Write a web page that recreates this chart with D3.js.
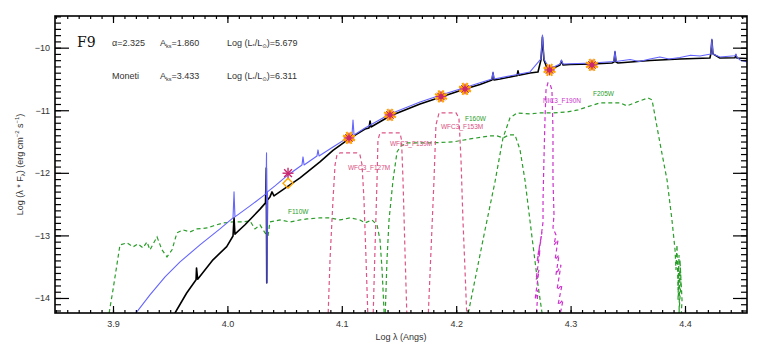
<!DOCTYPE html>
<html>
<head>
<meta charset="utf-8">
<script src="https://cdn.jsdelivr.net/npm/d3@7"></script>
<style>
  body { margin: 0; background: #fff; }
  svg { display: block; font-family: "Liberation Sans", "DejaVu Sans", sans-serif; }
</style>
</head>
<body>
<div id="chart"></div>
<script>
// [log lambda (Angs), log (lambda * F_lambda)]
const modelSpectrum = [
  [3.953, -14.3], [3.9542, -14.24], [3.9644, -13.92], [3.9726, -13.71], [3.973, -13.52],
  [3.974, -13.70], [3.9874, -13.39], [3.9994, -13.18], [4.0049, -13.01], [4.0058, -12.72],
  [4.0066, -12.98], [4.0154, -12.83], [4.0285, -12.58], [4.0333, -12.48], [4.034, -11.922],
  [4.0344, -13.758], [4.035, -12.433], [4.0372, -12.385], [4.039, -12.305], [4.0407, -12.369],
  [4.0635, -12.081], [4.0809, -11.826], [4.0923, -11.642], [4.1063, -11.458], [4.1203, -11.299],
  [4.1238, -11.283], [4.1247, -11.171], [4.1255, -11.267], [4.1421, -11.091], [4.1684, -10.899],
  [4.1867, -10.788], [4.2077, -10.660], [4.2208, -10.588], [4.2313, -10.516], [4.2322, -10.404],
  [4.233, -10.516], [4.2383, -10.500], [4.2514, -10.452], [4.2531, -10.45], [4.254, -10.37],
  [4.2549, -10.44], [4.2645, -10.404], [4.2715, -10.388], [4.2741, -10.196], [4.2754, -9.829],
  [4.2767, -10.196], [4.2794, -10.324], [4.2816, -10.356], [4.2907, -10.276], [4.292, -10.212],
  [4.2934, -10.276], [4.2995, -10.268], [4.3187, -10.260], [4.3362, -10.244], [4.3379, -10.23],
  [4.3388, -10.069], [4.3397, -10.23], [4.3414, -10.244], [4.3694, -10.204], [4.3956, -10.181],
  [4.4218, -10.165], [4.4226, -10.10], [4.4235, -9.877], [4.4244, -10.10], [4.4305, -10.165],
  [4.4437, -10.16], [4.4445, -10.117], [4.4454, -10.165], [4.4542, -10.173]
];

const observedSpectrum = [
  [3.9175, -14.302], [3.9323, -13.950], [3.9455, -13.663], [3.9586, -13.423], [3.976, -13.152],
  [3.9935, -12.896], [4.0049, -12.720], [4.0058, -12.305], [4.0066, -12.704], [4.0198, -12.529],
  [4.0302, -12.385], [4.0337, -12.337], [4.0342, -11.682], [4.0346, -13.758], [4.035, -12.305],
  [4.0416, -12.209], [4.053, -12.034], [4.0652, -11.874], [4.0661, -11.746], [4.067, -11.874],
  [4.0783, -11.730], [4.0792, -11.634], [4.0801, -11.730], [4.0923, -11.586], [4.1063, -11.426],
  [4.1089, -11.395], [4.1098, -11.155], [4.1107, -11.395], [4.1203, -11.283], [4.1421, -11.059],
  [4.1684, -10.867], [4.1867, -10.756], [4.2077, -10.636], [4.2313, -10.500], [4.2322, -10.388],
  [4.233, -10.500], [4.2645, -10.388], [4.2741, -10.180], [4.2754, -9.797], [4.2767, -10.180],
  [4.2816, -10.340], [4.2907, -10.26], [4.292, -10.196], [4.2934, -10.26], [4.3187, -10.244],
  [4.3379, -10.22], [4.3388, -10.053], [4.3397, -10.22], [4.352, -10.19], [4.36, -10.22],
  [4.3694, -10.181], [4.378, -10.15], [4.386, -10.18], [4.3956, -10.157], [4.405, -10.12],
  [4.4131, -10.133], [4.4226, -10.10], [4.4235, -9.861], [4.4244, -10.10], [4.4305, -10.149],
  [4.4437, -10.13], [4.4445, -10.101], [4.4454, -10.15], [4.448, -10.196], [4.4542, -10.228]
];

const f110w = [
  [3.8956, -14.35], [3.9, -13.87], [3.9061, -13.152], [3.9122, -13.12], [3.9175, -13.184],
  [3.9219, -13.136], [3.9262, -13.199], [3.9297, -13.104], [3.9323, -13.231], [3.9385, -13.024],
  [3.9428, -13.231], [3.9472, -13.343], [3.9516, -13.231], [3.9559, -12.96], [3.9612, -12.912],
  [3.9673, -12.944], [3.9734, -12.897], [3.9822, -12.881], [3.9874, -12.849], [3.9962, -12.801],
  [4.0049, -12.785], [4.0136, -12.785], [4.0198, -12.769], [4.0241, -12.897], [4.0285, -12.833],
  [4.0329, -12.96], [4.0355, -13.008], [4.0372, -12.785], [4.046, -12.753], [4.0547, -12.785],
  [4.0635, -12.753], [4.0696, -12.737], [4.0809, -12.72], [4.0897, -12.72], [4.0984, -12.753],
  [4.1072, -12.72], [4.1159, -12.753], [4.1203, -12.801], [4.1264, -12.753], [4.1308, -12.833],
  [4.1334, -13.072], [4.1352, -13.551], [4.1373, -14.35]
];

const f160w = [
  [4.1378, -14.35], [4.1395, -13.391], [4.1413, -12.752], [4.1448, -12.113], [4.1483, -11.665],
  [4.1517, -11.57], [4.157, -11.522], [4.1771, -11.522], [4.1972, -11.506], [4.2121, -11.458],
  [4.2295, -11.41], [4.2357, -11.41], [4.2409, -11.442], [4.2462, -11.395], [4.2514, -11.395],
  [4.2558, -11.634], [4.2601, -12.113], [4.2671, -13.152], [4.2715, -13.791], [4.2759, -14.35]
];

const f205w = [
  [4.2094, -14.35], [4.2164, -13.711], [4.2252, -12.912], [4.2339, -12.145], [4.2409, -11.442],
  [4.247, -11.123], [4.2531, -11.043], [4.2645, -11.059], [4.2733, -11.043], [4.2846, -11.043],
  [4.2969, -11.027], [4.3065, -10.995], [4.3143, -10.947], [4.3257, -10.883], [4.3371, -10.883],
  [4.3432, -10.883], [4.3493, -10.931], [4.358, -10.867], [4.3677, -10.804], [4.3712, -10.835],
  [4.3781, -11.522], [4.3843, -12.113], [4.3886, -12.752], [4.3913, -13.232], [4.3921, -13.551],
  [4.393, -13.152], [4.3939, -13.871], [4.3948, -13.312], [4.3939, -14.031], [4.3956, -13.551],
  [4.3948, -14.24], [4.3965, -13.711], [4.3956, -13.391], [4.3974, -14.031], [4.3965, -14.35]
];

const f127m = [
  [4.0879, -14.35], [4.0897, -13.391], [4.0923, -12.433], [4.0941, -11.874], [4.0958, -11.714],
  [4.0984, -11.682], [4.1133, -11.682], [4.1159, -11.714], [4.1177, -11.874], [4.1194, -12.433],
  [4.1212, -13.391], [4.1229, -14.35]
];

const f139m = [
  [4.1273, -14.35], [4.129, -13.232], [4.1308, -12.113], [4.1316, -11.474], [4.1334, -11.363],
  [4.1509, -11.363], [4.1522, -11.474], [4.1535, -12.113], [4.1552, -13.232], [4.157, -14.35]
];

const f153m = [
  [4.1754, -14.35], [4.178, -13.232], [4.1806, -12.113], [4.1823, -11.235], [4.185, -11.043],
  [4.1999, -11.043], [4.2024, -11.123], [4.2042, -11.794], [4.2059, -12.752], [4.2077, -13.551],
  [4.2094, -14.35]
];

const f190n = [
  [4.2698, -14.35], [4.2715, -13.871], [4.2689, -14.031], [4.2724, -13.551], [4.2698, -13.711],
  [4.2733, -13.232], [4.2706, -13.423], [4.2741, -13.072], [4.2715, -13.312], [4.275, -12.944],
  [4.2733, -13.152], [4.2759, -12.785], [4.2759, -12.433], [4.2767, -11.794], [4.2776, -11.155],
  [4.2785, -10.676], [4.2802, -10.564], [4.282, -10.58], [4.2837, -10.676], [4.2846, -11.315],
  [4.2846, -12.113], [4.2855, -12.672], [4.2846, -12.88], [4.2872, -12.992], [4.2855, -13.152],
  [4.289, -13.072], [4.2864, -13.391], [4.2899, -13.312], [4.2872, -13.631], [4.2916, -13.471],
  [4.2881, -13.871], [4.2925, -13.791], [4.289, -14.111], [4.2934, -14.031], [4.2899, -14.35]
];

const photometry = [
  [4.1063, -11.443], [4.1421, -11.075], [4.1867, -10.78], [4.2077, -10.66],
  [4.2816, -10.356], [4.3187, -10.276]
];
const asteriskPoint = [4.053, -12.006];
const diamondPoint = [4.053, -12.166];

const filterLabels = [
  { text: "F110W", at: [4.053, -12.66], color: "#2a9d2a" },
  { text: "WFC3_F127M", at: [4.1054, -11.955], color: "#d9507f" },
  { text: "WFC3_F139M", at: [4.1421, -11.57], color: "#d9507f" },
  { text: "WFC3_F153M", at: [4.1867, -11.30], color: "#d9507f" },
  { text: "F160W", at: [4.2077, -11.17], color: "#2a9d2a" },
  { text: "NIC3_F190N", at: [4.2759, -10.88], color: "#cc33cc" },
  { text: "F205W", at: [4.3196, -10.78], color: "#2a9d2a" }
];

const xTicks = [3.9, 4.0, 4.1, 4.2, 4.3, 4.4];
const yTicks = [-14, -13, -12, -11, -10];

const width = 763;
const height = 349;
const margin = { top: 16, right: 16, bottom: 36, left: 55 };

const x = d3.scaleLinear()
  .domain([3.8493, 4.4542])
  .range([margin.left, width - margin.right]);
const y = d3.scaleLinear()
  .domain([-14.24, -9.494])
  .range([height - margin.bottom, margin.top]);

const line = d3.line()
  .x((d) => x(d[0]))
  .y((d) => y(d[1]));

const svg = d3.select("#chart").append("svg")
  .attr("width", width)
  .attr("height", height);

svg.append("clipPath").attr("id", "plot-clip")
  .append("rect")
  .attr("x", margin.left)
  .attr("y", margin.top)
  .attr("width", width - margin.left - margin.right)
  .attr("height", height - margin.top - margin.bottom);

const g = svg.append("g").attr("clip-path", "url(#plot-clip)");

// filter curves
const filters = [
  { data: f110w, color: "#2a9d2a" },
  { data: f160w, color: "#2a9d2a" },
  { data: f205w, color: "#2a9d2a" },
  { data: f127m, color: "#dd5588" },
  { data: f139m, color: "#dd5588" },
  { data: f153m, color: "#dd5588" },
  { data: f190n, color: "#cc33cc" }
];
g.append("g")
  .selectAll("path")
  .data(filters)
  .join("path")
  .attr("fill", "none")
  .attr("stroke", (d) => d.color)
  .attr("stroke-width", 1.2)
  .attr("stroke-dasharray", "4,3")
  .attr("d", (d) => line(d.data));

// spectra
g.append("path")
  .attr("fill", "none")
  .attr("stroke", "#000")
  .attr("stroke-width", 1.6)
  .attr("stroke-linejoin", "round")
  .attr("d", line(modelSpectrum));

g.append("path")
  .attr("fill", "none")
  .attr("stroke", "#6464ff")
  .attr("stroke-width", 1.1)
  .attr("stroke-linejoin", "round")
  .attr("d", line(observedSpectrum));

// filter labels
svg.append("g")
  .selectAll("text")
  .data(filterLabels)
  .join("text")
  .attr("x", (d) => x(d.at[0]))
  .attr("y", (d) => y(d.at[1]))
  .attr("fill", (d) => d.color)
  .attr("font-size", 6.5)
  .text((d) => d.text);

// photometric points: orange sunburst with crimson asterisk
const rays = d3.range(8).map((i) => (i * Math.PI) / 4);
const pts = svg.append("g")
  .selectAll("g")
  .data(photometry)
  .join("g")
  .attr("transform", (d) => `translate(${x(d[0])},${y(d[1])})`);
pts.selectAll(".ray")
  .data(rays)
  .join("line")
  .attr("class", "ray")
  .attr("x2", (a) => 6.5 * Math.cos(a + Math.PI / 8))
  .attr("y2", (a) => 6.5 * Math.sin(a + Math.PI / 8))
  .attr("stroke", "#ffa500")
  .attr("stroke-width", 2);
pts.append("circle").attr("r", 4.5).attr("fill", "#ffa500");
pts.selectAll(".spoke")
  .data(rays)
  .join("line")
  .attr("class", "spoke")
  .attr("x2", (a) => 5.5 * Math.cos(a))
  .attr("y2", (a) => 5.5 * Math.sin(a))
  .attr("stroke", "#c8286e")
  .attr("stroke-width", 1);
pts.append("circle").attr("r", 2.6).attr("fill", "#c8286e");

const ast = svg.append("g")
  .attr("transform", `translate(${x(asteriskPoint[0])},${y(asteriskPoint[1])})`);
ast.selectAll("line")
  .data(rays)
  .join("line")
  .attr("x2", (a) => 5.5 * Math.cos(a))
  .attr("y2", (a) => 5.5 * Math.sin(a))
  .attr("stroke", "#c8286e")
  .attr("stroke-width", 1.4);

svg.append("path")
  .attr("transform", `translate(${x(diamondPoint[0])},${y(diamondPoint[1])})`)
  .attr("d", "M0,-5L5,0L0,5L-5,0Z")
  .attr("fill", "none")
  .attr("stroke", "#ffa500")
  .attr("stroke-width", 1.4);

// axes
const xMinor = d3.range(385, 446).map((d) => d / 100);
const yMinor = d3.range(-142, -94).map((d) => d / 10);
const plotBottom = height - margin.bottom;
const plotRight = width - margin.right;

function styleAxis(sel) {
  sel.select(".domain").remove();
  sel.selectAll(".tick line").attr("stroke", "#000").attr("stroke-width", 1.2);
  sel.selectAll(".tick text")
    .attr("fill", "#333")
    .attr("font-size", 9);
}

svg.append("g")
  .attr("transform", `translate(0,${plotBottom})`)
  .call(d3.axisBottom(x).tickValues(xMinor).tickSize(-3).tickFormat(""))
  .call(styleAxis);
svg.append("g")
  .attr("transform", `translate(0,${plotBottom})`)
  .call(d3.axisBottom(x).tickValues(xTicks).tickSize(-7).tickPadding(8).tickFormat(d3.format(".1f")))
  .call(styleAxis);
svg.append("g")
  .attr("transform", `translate(0,${margin.top})`)
  .call(d3.axisTop(x).tickValues(xMinor).tickSize(-3).tickFormat(""))
  .call(styleAxis);
svg.append("g")
  .attr("transform", `translate(0,${margin.top})`)
  .call(d3.axisTop(x).tickValues(xTicks).tickSize(-7).tickFormat(""))
  .call(styleAxis);

svg.append("g")
  .attr("transform", `translate(${margin.left},0)`)
  .call(d3.axisLeft(y).tickValues(yMinor).tickSize(-6).tickFormat(""))
  .call(styleAxis);
svg.append("g")
  .attr("transform", `translate(${margin.left},0)`)
  .call(d3.axisLeft(y).tickValues(yTicks).tickSize(-14).tickPadding(5).tickFormat(d3.format("d")))
  .call(styleAxis);
svg.append("g")
  .attr("transform", `translate(${plotRight},0)`)
  .call(d3.axisRight(y).tickValues(yMinor).tickSize(-6).tickFormat(""))
  .call(styleAxis);
svg.append("g")
  .attr("transform", `translate(${plotRight},0)`)
  .call(d3.axisRight(y).tickValues(yTicks).tickSize(-14).tickFormat(""))
  .call(styleAxis);

svg.append("rect")
  .attr("x", margin.left)
  .attr("y", margin.top)
  .attr("width", plotRight - margin.left)
  .attr("height", plotBottom - margin.top)
  .attr("fill", "none")
  .attr("stroke", "#000")
  .attr("stroke-width", 1.6);

// axis titles
svg.append("text")
  .attr("x", (margin.left + plotRight) / 2)
  .attr("y", 340)
  .attr("text-anchor", "middle")
  .attr("font-size", 9)
  .attr("fill", "#333")
  .text("Log λ (Angs)");

const yTitle = svg.append("text")
  .attr("transform", `translate(23,${(margin.top + plotBottom) / 2}) rotate(-90)`)
  .attr("text-anchor", "middle")
  .attr("font-size", 9)
  .attr("fill", "#333");
yTitle.append("tspan").text("Log (λ * F");
yTitle.append("tspan").attr("font-size", 6).attr("dy", 2).text("λ");
yTitle.append("tspan").attr("dy", -2).text(")     (erg cm");
yTitle.append("tspan").attr("font-size", 6).attr("dy", -4).text("−2");
yTitle.append("tspan").attr("dy", 4).text(" s");
yTitle.append("tspan").attr("font-size", 6).attr("dy", -4).text("−1");
yTitle.append("tspan").attr("dy", 4).text(")");

// annotations
svg.append("text")
  .attr("x", 77)
  .attr("y", 47)
  .attr("font-family", "'DejaVu Serif', 'Liberation Serif', serif")
  .attr("font-size", 14)
  .attr("fill", "#111")
  .text("F9");

const annot = [
  { row: 46, alpha: "α=2.325", aks: "1.860", lum: "5.679" },
  { row: 79, alpha: "Moneti", aks: "3.433", lum: "6.311" }
];
const ann = svg.append("g")
  .attr("font-size", 9)
  .attr("fill", "#333");
annot.forEach((d) => {
  ann.append("text").attr("x", 112).attr("y", d.row).text(d.alpha);
  const a = ann.append("text").attr("x", 160).attr("y", d.row);
  a.append("tspan").text("A");
  a.append("tspan").attr("font-size", 5.5).attr("dy", 2).text("ks");
  a.append("tspan").attr("dy", -2).text("=" + d.aks);
  const l = ann.append("text").attr("x", 227).attr("y", d.row);
  l.append("tspan").text("Log (L");
  l.append("tspan").attr("font-size", 5.5).attr("dy", 2).text("*");
  l.append("tspan").attr("dy", -2).text("/L");
  l.append("tspan").attr("font-size", 5.5).attr("dy", 2).text("⊙");
  l.append("tspan").attr("dy", -2).text(")=" + d.lum);
});
</script>
</body>
</html>
